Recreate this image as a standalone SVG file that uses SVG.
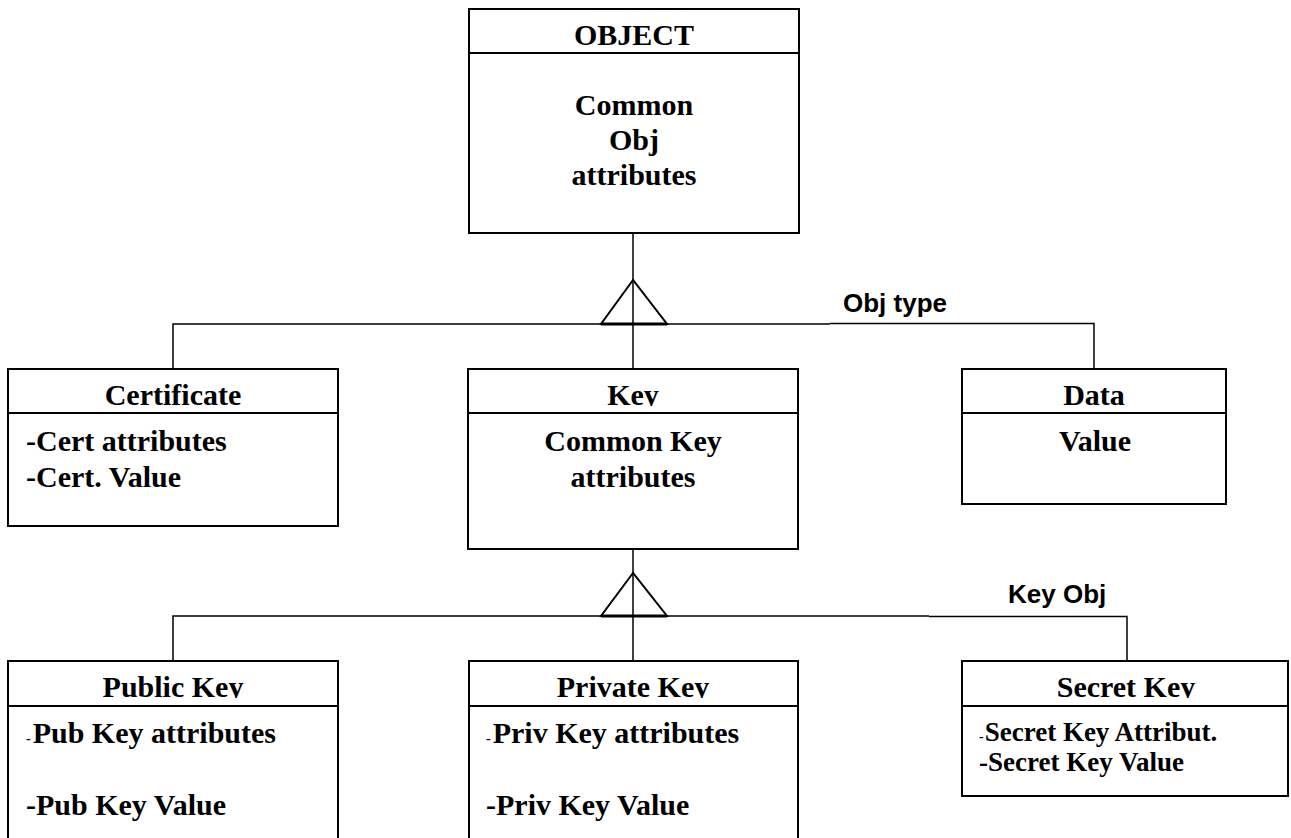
<svg xmlns="http://www.w3.org/2000/svg" width="1291" height="838" viewBox="0 0 1291 838">
  <style>
    .box { fill: #fff; stroke: #000; stroke-width: 2; }
    .div { stroke: #000; stroke-width: 2; fill: none; }
    .wire { stroke: #000; stroke-width: 1.5; fill: none; }
    .tri { fill: none; stroke: #000; stroke-width: 2; stroke-linejoin: miter; }
    .triBase { stroke: #000; stroke-width: 3; }
    .title { font-family: "Liberation Serif", "Times New Roman", serif; font-weight: bold; font-size: 30px; text-anchor: middle; fill: #000; }
    .body { font-family: "Liberation Serif", "Times New Roman", serif; font-weight: bold; font-size: 30px; fill: #000; }
    .mid { text-anchor: middle; }
    .small { font-size: 27px; }
    .dash { font-size: 14px; }
    .label { font-family: "Liberation Sans", Arial, sans-serif; font-weight: bold; font-size: 26px; fill: #000; }
  </style>
  <defs>
    <!-- header captions are cut just below their baseline -->
    <clipPath id="cpObject"><rect x="469" y="9" width="330" height="37"/></clipPath>
    <clipPath id="cpRow1"><rect x="0" y="369" width="1291" height="37"/></clipPath>
    <clipPath id="cpRow2"><rect x="0" y="661" width="1291" height="37"/></clipPath>
  </defs>

  <rect width="1291" height="838" fill="#fff"/>

  <!-- connectors -->
  <g id="connectors">
    <!-- OBJECT generalisation -->
    <line class="wire" x1="633" y1="233" x2="633" y2="369"/>
    <polyline class="wire" points="173,369 173,324 667,324"/>
    <line class="wire" x1="667" y1="324" x2="830" y2="324"/>
    <polyline class="wire" points="830,323.5 1094,323.5 1094,369"/>
    <polygon class="tri" points="633,280 601,324 667,324"/>
    <line class="triBase" x1="601" y1="324" x2="667" y2="324"/>
    <!-- Key generalisation -->
    <line class="wire" x1="633" y1="549" x2="633" y2="661"/>
    <polyline class="wire" points="173,661 173,616 667,616"/>
    <line class="wire" x1="667" y1="616" x2="929" y2="616"/>
    <polyline class="wire" points="929,616.5 1127,616.5 1127,661"/>
    <polygon class="tri" points="633,573 601,616 667,616"/>
    <line class="triBase" x1="601" y1="616" x2="667" y2="616"/>
    <text class="label" x="843" y="312">Obj type</text>
    <text class="label" x="1008" y="603">Key Obj</text>
  </g>

  <g id="object">
    <rect class="box" x="469" y="9" width="330" height="224"/>
    <line class="div" x1="469" y1="53" x2="799" y2="53"/>
    <text class="title" x="634" y="45" clip-path="url(#cpObject)">OBJECT</text>
    <text class="body mid" x="634" y="115">Common</text>
    <text class="body mid" x="634" y="150">Obj</text>
    <text class="body mid" x="634" y="185">attributes</text>
  </g>

  <g id="certificate">
    <rect class="box" x="8" y="369" width="330" height="157"/>
    <line class="div" x1="8" y1="413" x2="338" y2="413"/>
    <text class="title" x="173" y="405" clip-path="url(#cpRow1)">Certificate</text>
    <text class="body" x="26" y="451">-Cert attributes</text>
    <text class="body" x="26" y="487">-Cert. Value</text>
  </g>

  <g id="key">
    <rect class="box" x="468" y="369" width="330" height="180"/>
    <line class="div" x1="468" y1="413" x2="798" y2="413"/>
    <text class="title" x="633" y="405" clip-path="url(#cpRow1)">Key</text>
    <text class="body mid" x="633" y="451">Common Key</text>
    <text class="body mid" x="633" y="487">attributes</text>
  </g>

  <g id="data">
    <rect class="box" x="962" y="369" width="264" height="135"/>
    <line class="div" x1="962" y1="413" x2="1226" y2="413"/>
    <text class="title" x="1094" y="405" clip-path="url(#cpRow1)">Data</text>
    <text class="body mid" x="1095" y="451">Value</text>
  </g>

  <g id="public-key">
    <rect class="box" x="8" y="661" width="330" height="190"/>
    <line class="div" x1="8" y1="706" x2="338" y2="706"/>
    <text class="title" x="173" y="697" clip-path="url(#cpRow2)">Public Key</text>
    <text class="body" x="26" y="743"><tspan class="dash">-</tspan><tspan dx="2">Pub Key attributes</tspan></text>
    <text class="body" x="26" y="815">-Pub Key Value</text>
  </g>

  <g id="private-key">
    <rect class="box" x="469" y="661" width="329" height="190"/>
    <line class="div" x1="469" y1="706" x2="798" y2="706"/>
    <text class="title" x="633" y="697" clip-path="url(#cpRow2)">Private Key</text>
    <text class="body" x="486" y="743"><tspan class="dash">-</tspan><tspan dx="2">Priv Key attributes</tspan></text>
    <text class="body" x="486" y="815">-Priv Key Value</text>
  </g>

  <g id="secret-key">
    <rect class="box" x="962" y="661" width="326" height="135"/>
    <line class="div" x1="962" y1="706" x2="1288" y2="706"/>
    <text class="title" x="1126" y="697" clip-path="url(#cpRow2)">Secret Key</text>
    <text class="body small" x="979" y="741"><tspan class="dash">-</tspan><tspan dx="1">Secret Key Attribut.</tspan></text>
    <text class="body small" x="979" y="771">-Secret Key Value</text>
  </g>
</svg>
